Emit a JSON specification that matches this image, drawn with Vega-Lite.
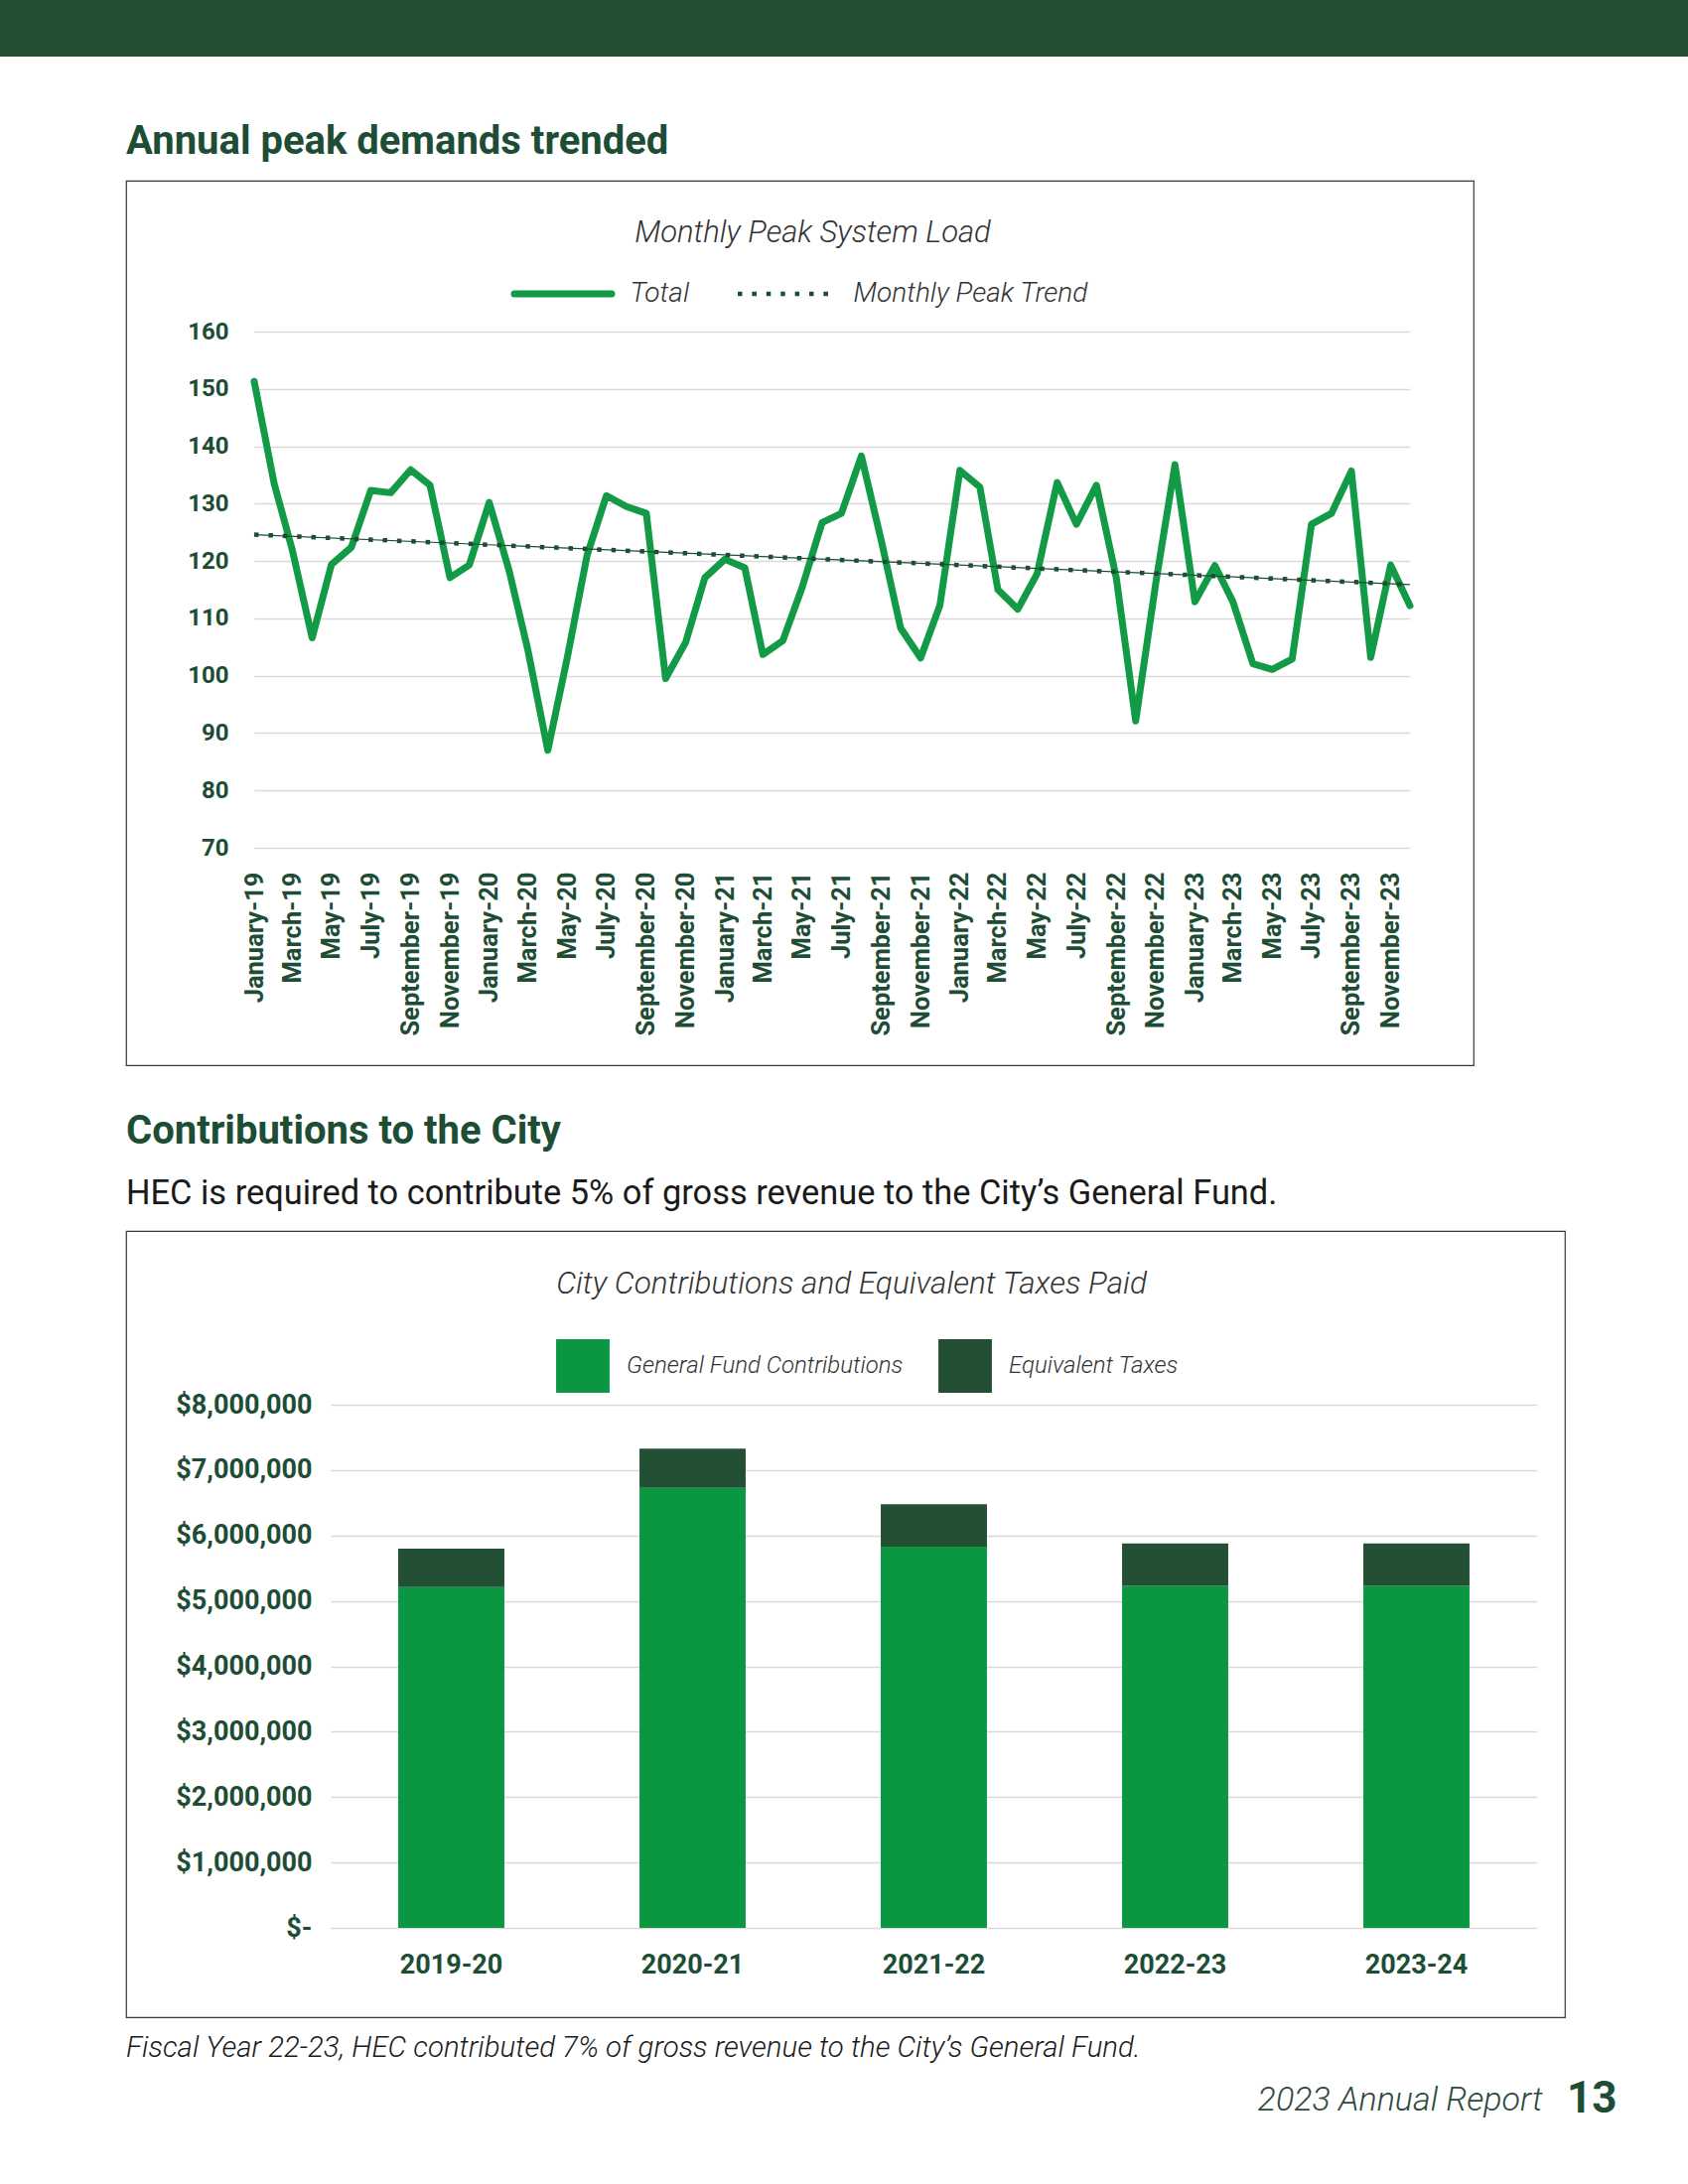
{
  "$schema": "https://vega.github.io/schema/vega-lite/v6.json",
  "background": "#ffffff",
  "padding": {"left": 0, "top": 0, "right": 0, "bottom": 40},
  "spacing": 66,
  "config": {
    "font": "Roboto",
    "view": {"stroke": null},
    "concat": {"spacing": 0}
  },
  "resolve": {"scale": {"color": "independent"}, "legend": {"color": "independent"}},
  "datasets": {
    "peak": [
      {"month": "2019-01-01", "load": 151.3},
      {"month": "2019-02-01", "load": 133.5},
      {"month": "2019-03-01", "load": 122.0},
      {"month": "2019-04-01", "load": 106.6},
      {"month": "2019-05-01", "load": 119.4},
      {"month": "2019-06-01", "load": 122.4},
      {"month": "2019-07-01", "load": 132.3},
      {"month": "2019-08-01", "load": 131.9},
      {"month": "2019-09-01", "load": 135.9},
      {"month": "2019-10-01", "load": 133.2},
      {"month": "2019-11-01", "load": 117.1},
      {"month": "2019-12-01", "load": 119.3},
      {"month": "2020-01-01", "load": 130.2},
      {"month": "2020-02-01", "load": 118.3},
      {"month": "2020-03-01", "load": 104.5},
      {"month": "2020-04-01", "load": 87.0},
      {"month": "2020-05-01", "load": 103.0},
      {"month": "2020-06-01", "load": 121.0},
      {"month": "2020-07-01", "load": 131.4},
      {"month": "2020-08-01", "load": 129.5},
      {"month": "2020-09-01", "load": 128.3},
      {"month": "2020-10-01", "load": 99.5},
      {"month": "2020-11-01", "load": 105.8},
      {"month": "2020-12-01", "load": 117.1},
      {"month": "2021-01-01", "load": 120.3},
      {"month": "2021-02-01", "load": 118.8},
      {"month": "2021-03-01", "load": 103.7},
      {"month": "2021-04-01", "load": 106.1},
      {"month": "2021-05-01", "load": 115.4},
      {"month": "2021-06-01", "load": 126.7},
      {"month": "2021-07-01", "load": 128.3},
      {"month": "2021-08-01", "load": 138.3},
      {"month": "2021-09-01", "load": 123.5},
      {"month": "2021-10-01", "load": 108.3},
      {"month": "2021-11-01", "load": 103.1},
      {"month": "2021-12-01", "load": 112.3},
      {"month": "2022-01-01", "load": 135.8},
      {"month": "2022-02-01", "load": 132.9},
      {"month": "2022-03-01", "load": 115.0},
      {"month": "2022-04-01", "load": 111.6},
      {"month": "2022-05-01", "load": 117.8},
      {"month": "2022-06-01", "load": 133.7},
      {"month": "2022-07-01", "load": 126.4},
      {"month": "2022-08-01", "load": 133.2},
      {"month": "2022-09-01", "load": 117.0},
      {"month": "2022-10-01", "load": 92.1},
      {"month": "2022-11-01", "load": 116.0},
      {"month": "2022-12-01", "load": 136.8},
      {"month": "2023-01-01", "load": 112.9},
      {"month": "2023-02-01", "load": 119.2},
      {"month": "2023-03-01", "load": 112.9},
      {"month": "2023-04-01", "load": 102.1},
      {"month": "2023-05-01", "load": 101.1},
      {"month": "2023-06-01", "load": 102.9},
      {"month": "2023-07-01", "load": 126.4},
      {"month": "2023-08-01", "load": 128.3},
      {"month": "2023-09-01", "load": 135.7},
      {"month": "2023-10-01", "load": 103.2},
      {"month": "2023-11-01", "load": 119.3},
      {"month": "2023-12-01", "load": 112.2}
    ],
    "trend": [
      {"month": "2019-01-01", "load": 124.6},
      {"month": "2023-12-01", "load": 115.9}
    ],
    "contrib": [
      {"year": "2019-20", "type": "General Fund Contributions", "amount": 5210000},
      {"year": "2019-20", "type": "Equivalent Taxes", "amount": 590000},
      {"year": "2020-21", "type": "General Fund Contributions", "amount": 6730000},
      {"year": "2020-21", "type": "Equivalent Taxes", "amount": 600000},
      {"year": "2021-22", "type": "General Fund Contributions", "amount": 5830000},
      {"year": "2021-22", "type": "Equivalent Taxes", "amount": 650000},
      {"year": "2022-23", "type": "General Fund Contributions", "amount": 5230000},
      {"year": "2022-23", "type": "Equivalent Taxes", "amount": 650000},
      {"year": "2023-24", "type": "General Fund Contributions", "amount": 5230000},
      {"year": "2023-24", "type": "Equivalent Taxes", "amount": 650000}
    ]
  },
  "vconcat": [
    {
      "width": 1700,
      "height": 57,
      "view": {"fill": "#234e33", "stroke": null},
      "data": {"values": []},
      "mark": "rule",
      "encoding": {}
    },
    {
      "spacing": 0,
      "resolve": {"scale": {"color": "independent"}, "legend": {"color": "independent"}},
      "hconcat": [
        {
          "width": 126,
          "height": 10,
          "data": {"values": []},
          "mark": "rule",
          "encoding": {}
        },
        {
          "spacing": 46,
          "resolve": {"scale": {"color": "independent"}, "legend": {"color": "independent"}},
          "vconcat": [
            {
              "title": {
                "text": "Annual peak demands trended",
                "anchor": "start",
                "frame": "group",
                "font": "Roboto",
                "fontSize": 40,
                "fontWeight": "bold",
                "color": "#1e4d35",
                "baseline": "alphabetic",
                "offset": -14
              },
              "resolve": {"scale": {"color": "independent"}, "legend": {"color": "independent"}},
              "vconcat": [
                {
                  "width": 1357,
                  "height": 891,
                  "view": {"stroke": "#3a3a3a", "strokeWidth": 1.2},
                  "title": {
                    "text": "Monthly Peak System Load",
                    "anchor": "middle",
                    "frame": "group",
                    "font": "Roboto",
                    "fontSize": 31,
                    "fontStyle": "italic",
                    "fontWeight": 300,
                    "color": "#333333",
                    "baseline": "alphabetic",
                    "dx": 13,
                    "offset": -93
                  },
                  "encoding": {
                    "x": {
                      "field": "month",
                      "type": "temporal",
                      "scale": {
                        "type": "utc",
                        "domain": [
                          {"year": 2019, "month": 1, "date": 1, "utc": true},
                          {"year": 2023, "month": 12, "date": 1, "utc": true}
                        ],
                        "range": [129, 1293]
                      },
                      "axis": {
                        "orient": "bottom",
                        "offset": -219,
                        "format": "%B-%y",
                        "tickCount": {"interval": "month", "step": 2},
                        "labelAngle": -90,
                        "labelPadding": 24,
                        "labelFont": "Roboto",
                        "labelFontWeight": "bold",
                        "labelFontSize": 25.5,
                        "labelColor": "#1e4d35",
                        "labelOverlap": false,
                        "labelFlush": false,
                        "labelBound": false,
                        "ticks": false,
                        "domain": false,
                        "grid": false,
                        "title": null
                      }
                    },
                    "y": {
                      "field": "load",
                      "type": "quantitative",
                      "scale": {"domain": [70, 160], "range": [672, 152], "nice": false, "zero": false},
                      "axis": {
                        "orient": "left",
                        "offset": -113,
                        "values": [70, 80, 90, 100, 110, 120, 130, 140, 150, 160],
                        "labelPadding": 10,
                        "labelFont": "Roboto",
                        "labelFontWeight": "bold",
                        "labelFontSize": 24,
                        "labelColor": "#1e4d35",
                        "ticks": false,
                        "domain": false,
                        "grid": true,
                        "gridColor": "#d9d9d9",
                        "gridWidth": 1.5,
                        "title": null
                      }
                    }
                  },
                  "layer": [
                    {
                      "data": {"name": "peak"},
                      "mark": {"type": "line", "strokeWidth": 7, "strokeJoin": "round", "strokeCap": "round"},
                      "encoding": {
                        "color": {
                          "datum": "Total",
                          "type": "nominal",
                          "scale": {"domain": ["Total", "Monthly Peak Trend"], "range": ["#139a46", "#1e4d35"]},
                          "legend": {
                            "orient": "none",
                            "legendX": 382,
                            "legendY": 100,
                            "direction": "horizontal",
                            "title": null,
                            "symbolType": "stroke",
                            "symbolSize": 9604,
                            "symbolStrokeWidth": 7,
                            "symbolOffset": 44,
                            "labelFont": "Roboto",
                            "labelFontSize": 28,
                            "labelFontStyle": "italic",
                            "labelFontWeight": 300,
                            "labelColor": "#333333",
                            "labelLimit": 600,
                            "labelOffset": 53.5,
                            "columnPadding": 40,
                            "encode": {
                              "symbols": {
                                "update": {
                                  "strokeDash": {"signal": "datum.value === 'Total' ? [1, 0] : [4.5, 9.9]"},
                                  "strokeWidth": {"signal": "datum.value === 'Total' ? 7 : 4.5"},
                                  "strokeCap": {"signal": "datum.value === 'Total' ? 'round' : 'butt'"}
                                }
                              }
                            }
                          }
                        }
                      }
                    },
                    {
                      "data": {"name": "trend"},
                      "mark": {"type": "line", "strokeWidth": 1.2, "color": "#1e4d35"},
                      "encoding": {}
                    },
                    {
                      "data": {"name": "trend"},
                      "mark": {"type": "line", "strokeWidth": 4.5, "strokeDash": [4.5, 9.9], "strokeCap": "butt"},
                      "encoding": {
                        "color": {"datum": "Monthly Peak Trend", "type": "nominal"}
                      }
                    }
                  ]
                }
              ]
            },
            {
              "title": {
                "text": "Contributions to the City",
                "subtitle": "HEC is required to contribute 5% of gross revenue to the City’s General Fund.",
                "anchor": "start",
                "frame": "group",
                "font": "Roboto",
                "fontSize": 40,
                "fontWeight": "bold",
                "color": "#1e4d35",
                "baseline": "alphabetic",
                "subtitleFont": "Roboto",
                "subtitleFontSize": 34.4,
                "subtitleColor": "#1a1a1a",
                "subtitlePadding": 21,
                "offset": -12
              },
              "resolve": {"scale": {"color": "independent"}, "legend": {"color": "independent"}},
              "vconcat": [
                {
                  "title": {
                    "text": "13",
                    "orient": "bottom",
                    "anchor": "end",
                    "frame": "bounds",
                    "font": "Roboto",
                    "fontSize": 44,
                    "fontWeight": "bold",
                    "color": "#1e4d35",
                    "baseline": "alphabetic",
                    "dx": 52,
                    "dy": -5,
                    "offset": 0
                  },
                  "resolve": {"scale": {"color": "independent"}, "legend": {"color": "independent"}},
                  "vconcat": [
                    {
                      "title": {
                        "text": "2023 Annual Report",
                        "orient": "bottom",
                        "anchor": "end",
                        "frame": "bounds",
                        "font": "Roboto",
                        "fontSize": 34,
                        "fontStyle": "italic",
                        "fontWeight": 300,
                        "color": "#2d4a3b",
                        "baseline": "alphabetic",
                        "dx": -23,
                        "offset": 49
                      },
                      "resolve": {"scale": {"color": "independent"}, "legend": {"color": "independent"}},
                      "vconcat": [
                        {
                          "title": {
                            "text": "Fiscal Year 22-23, HEC contributed 7% of gross revenue to the City’s General Fund.",
                            "orient": "bottom",
                            "anchor": "start",
                            "frame": "group",
                            "font": "Roboto",
                            "fontSize": 29.4,
                            "fontStyle": "italic",
                            "fontWeight": 300,
                            "color": "#1a1a1a",
                            "baseline": "alphabetic",
                            "offset": 39
                          },
                          "resolve": {"scale": {"color": "independent"}, "legend": {"color": "independent"}},
                          "vconcat": [
                            {
                              "width": 1449,
                              "height": 792,
                              "view": {"stroke": "#3a3a3a", "strokeWidth": 1.2},
                              "title": {
                                "text": "City Contributions and Equivalent Taxes Paid",
                                "anchor": "middle",
                                "frame": "group",
                                "font": "Roboto",
                                "fontSize": 31.5,
                                "fontStyle": "italic",
                                "fontWeight": 300,
                                "color": "#333333",
                                "baseline": "alphabetic",
                                "dx": 6,
                                "offset": -94
                              },
                              "data": {"name": "contrib"},
                              "mark": {"type": "bar"},
                              "encoding": {
                                "x": {
                                  "field": "year",
                                  "type": "nominal",
                                  "sort": null,
                                  "scale": {"range": [206, 1421], "paddingInner": 0.56, "paddingOuter": 0.28},
                                  "axis": {
                                    "orient": "bottom",
                                    "offset": -90,
                                    "labelAngle": 0,
                                    "labelPadding": 24,
                                    "labelFont": "Roboto",
                                    "labelFontWeight": "bold",
                                    "labelFontSize": 27,
                                    "labelColor": "#1e4d35",
                                    "ticks": false,
                                    "domain": false,
                                    "grid": false,
                                    "title": null
                                  }
                                },
                                "y": {
                                  "field": "amount",
                                  "type": "quantitative",
                                  "stack": "zero",
                                  "scale": {"domain": [0, 8000000], "range": [702, 175], "nice": false},
                                  "axis": {
                                    "orient": "left",
                                    "offset": -197,
                                    "values": [0, 1000000, 2000000, 3000000, 4000000, 5000000, 6000000, 7000000, 8000000],
                                    "labelExpr": "datum.value === 0 ? '$-' : format(datum.value, '$,.0f')",
                                    "labelPadding": 10,
                                    "labelFont": "Roboto",
                                    "labelFontWeight": "bold",
                                    "labelFontSize": 27,
                                    "labelColor": "#1e4d35",
                                    "ticks": false,
                                    "domain": false,
                                    "grid": true,
                                    "gridColor": "#d9d9d9",
                                    "gridWidth": 1.5,
                                    "title": null
                                  }
                                },
                                "color": {
                                  "field": "type",
                                  "type": "nominal",
                                  "scale": {"domain": ["General Fund Contributions", "Equivalent Taxes"], "range": ["#0b9741", "#234f34"]},
                                  "legend": {
                                    "orient": "none",
                                    "legendX": 433,
                                    "legendY": 109,
                                    "direction": "horizontal",
                                    "title": null,
                                    "symbolType": "square",
                                    "symbolSize": 2900,
                                    "symbolStrokeWidth": 0,
                                    "symbolOpacity": 1,
                                    "labelFont": "Roboto",
                                    "labelFontSize": 24,
                                    "labelFontStyle": "italic",
                                    "labelFontWeight": 300,
                                    "labelColor": "#333333",
                                    "labelLimit": 600,
                                    "labelOffset": 17,
                                    "columnPadding": 35
                                  }
                                },
                                "order": {"field": "type", "sort": "descending"}
                              }
                            }
                          ]
                        }
                      ]
                    }
                  ]
                }
              ]
            }
          ]
        }
      ]
    }
  ]
}
